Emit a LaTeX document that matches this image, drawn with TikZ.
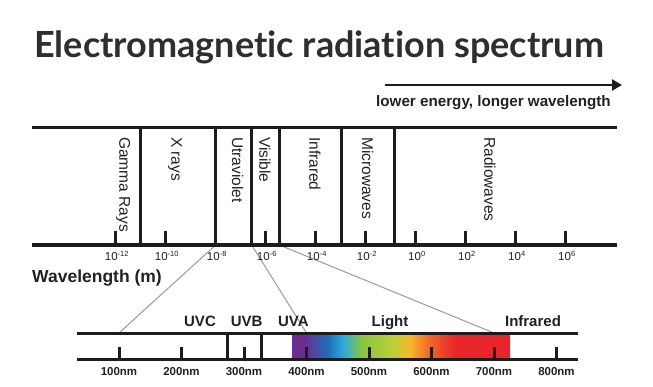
\documentclass[tikz,border=0pt]{standalone}
\usepackage{fontspec}
\setmainfont{Liberation Sans}
\newfontfamily\titlefont{Lato}[Ligatures={NoCommon}]
\usetikzlibrary{arrows.meta}
\definecolor{ink}{HTML}{1C1C1C}
\definecolor{txt}{HTML}{222222}
\definecolor{titlegray}{HTML}{2E2E2E}
\definecolor{conngray}{HTML}{9A9A9A}
\definecolor{spPurple}{HTML}{6B2D90}
\definecolor{spBlue}{HTML}{1E6FB8}
\definecolor{spCyan}{HTML}{29A8E0}
\definecolor{spGreen}{HTML}{8BC540}
\definecolor{spYG}{HTML}{B8D03A}
\definecolor{spYellow}{HTML}{F9B72A}
\definecolor{spOrange}{HTML}{F26A2C}
\definecolor{spRed}{HTML}{E8252A}
\pgfdeclarehorizontalshading{spectrum}{100bp}{color(0bp)=(spPurple); color(25bp)=(spPurple); color(27.98bp)=(spPurple); color(33.26bp)=(spBlue); color(36.47bp)=(spCyan); color(41.06bp)=(spGreen); color(47.94bp)=(spYG); color(52.07bp)=(spYellow); color(56.2bp)=(spOrange); color(62.39bp)=(spRed); color(75bp)=(spRed); color(100bp)=(spRed)}
\begin{document}
\begin{tikzpicture}[x=1pt,y=-1pt,
  bar/.style={draw=ink,line width=3.4pt},
  divider/.style={draw=ink,line width=3pt},
  tickmark/.style={draw=ink,line width=3pt},
  conn/.style={draw=conngray,line width=1pt},
  vlabel/.style={rotate=-90,anchor=west,inner sep=0pt,text=txt,font=\fontsize{15.5}{18}\selectfont},
  scalelbl/.style={anchor=base,inner sep=0pt,text=txt,font=\fontsize{11.5}{13}\selectfont},
  bandlbl/.style={anchor=base,inner sep=0pt,text=txt,font=\bfseries\fontsize{15}{18}\selectfont},
  nmlbl/.style={anchor=base,inner sep=0pt,text=txt,font=\bfseries\fontsize{11.5}{14}\selectfont}]
\useasboundingbox[fill=white] (0,0) rectangle (653,387);

% title
\node[anchor=base west,inner sep=0pt,text=titlegray,font=\titlefont\bfseries\fontsize{36}{42}\selectfont] (title) at (34,58) {Electromagnetic radiation spectrum};

% energy arrow
\coordinate (arrS) at (385,85);
\coordinate (arrE) at (622,85);
\draw[draw=ink,line width=2.5pt,-{Triangle[length=10pt,width=11pt]}] (arrS) -- (arrE);
\node[anchor=base west,inner sep=0pt,text=txt,font=\bfseries\fontsize{15.2}{18}\selectfont] (energy) at (376,107) {lower energy, longer wavelength};

% coordinates of main scale
\coordinate (tl) at (32,127.5);
\coordinate (tr) at (617,127.5);
\coordinate (bl) at (32,245);
\coordinate (br) at (617,245);
\foreach \x [count=\i] in {140,215.7,251.7,279.3,341.7,394} {
  \coordinate (dt\i) at (\x,127.5);
  \coordinate (db\i) at (\x,245);
}

% lower strip coordinates
\coordinate (sl) at (76.7,333);
\coordinate (sr) at (578.3,333);
\coordinate (sbl) at (76.7,359);
\coordinate (sbr) at (578.3,359);
\coordinate (c100) at (119,333);
\coordinate (c400) at (306.5,333);
\coordinate (c700) at (494,333);

% connectors
\draw[conn] (db2) -- (c100);
\draw[conn] (db3) -- (c400);
\draw[conn] (db4) -- (c700);

% main scale
\draw[bar] (tl) -- (tr);
\draw[bar] (bl) -- (br);
\foreach \i in {1,...,6} { \draw[divider] (dt\i) -- (db\i); }

\node[vlabel] (gamma) at (123.3,137) {Gamma Rays};
\node[vlabel] (xrays) at (175,137) {X rays};
\node[vlabel] (uv) at (237.7,137) {Utraviolet};
\node[vlabel] (vis) at (265,137) {Visible};
\node[vlabel] (ir) at (315,137) {Infrared};
\node[vlabel] (micro) at (367.7,137) {Microwaves};
\node[vlabel] (radio) at (490,137) {Radiowaves};

\foreach \e [count=\i from 0] in {-12,-10,-8,-6,-4,-2,0,2,4,6} {
  \pgfmathsetmacro\xx{115.7+50*\i}
  \coordinate (tk\i) at (\xx,231);
  \coordinate (tb\i) at (\xx,245);
  \draw[tickmark] (tk\i) -- (tb\i);
  \node[scalelbl] (sl\i) at (\xx+1,261) {10\raisebox{4pt}{\fontsize{7.5}{8}\selectfont\e}};
}

\node[anchor=base west,inner sep=0pt,text=txt,font=\bfseries\fontsize{17.5}{20}\selectfont] (wl) at (32,283) {Wavelength (m)};

% lower strip
\shade[shading=spectrum] (292,333) rectangle (510,359);
\draw[bar,line width=3pt] (sl) -- (sr);
\draw[bar,line width=3pt] (sbl) -- (sbr);
\coordinate (uv1t) at (227.3,333);
\coordinate (uv1b) at (227.3,359);
\coordinate (uv2t) at (261,333);
\coordinate (uv2b) at (261,359);
\draw[divider] (uv1t) -- (uv1b);
\draw[divider] (uv2t) -- (uv2b);

\foreach \n [count=\i from 0] in {100,200,300,400,500,600,700,800} {
  \pgfmathsetmacro\xx{119+62.5*\i}
  \coordinate (nt\i) at (\xx,347);
  \coordinate (nb\i) at (\xx,359);
  \draw[tickmark] (nt\i) -- (nb\i);
  \node[nmlbl] (nl\i) at (\xx,375) {\n nm};
}

\node[bandlbl] (uvc) at (200,326) {UVC};
\node[bandlbl] (uvb) at (246.7,326) {UVB};
\node[bandlbl] (uva) at (293.3,326) {UVA};
\node[bandlbl] (light) at (390,326) {Light};
\node[bandlbl] (infra) at (533,326) {Infrared};
\end{tikzpicture}
\end{document}
